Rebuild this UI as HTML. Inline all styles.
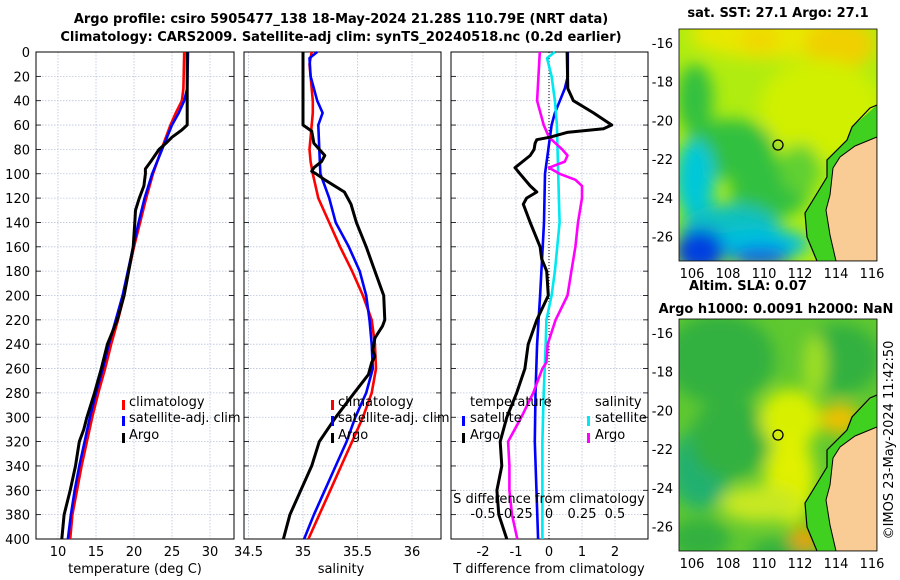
<!DOCTYPE html>
<html><head><meta charset="utf-8"><style>
body{margin:0;background:#fff;width:900px;height:580px;overflow:hidden}
svg{display:block;font-family:"DejaVu Sans","Liberation Sans",sans-serif}
</style></head><body>
<svg id="c" width="900" height="580" viewBox="0 0 900 580">
<defs>
<filter id="bl" x="-20%" y="-20%" width="140%" height="140%"><feGaussianBlur stdDeviation="8"/></filter>
<clipPath id="m1"><rect x="679" y="29" width="198" height="232"/></clipPath>
<clipPath id="m2"><rect x="679" y="319" width="198" height="232"/></clipPath>
</defs>
<text x="341" y="23" text-anchor="middle" font-size="13" font-weight="bold">Argo profile: csiro 5905477_138 18-May-2024 21.28S 110.79E (NRT data)</text>
<text x="341" y="41" text-anchor="middle" font-size="13" font-weight="bold">Climatology: CARS2009. Satellite-adj clim: synTS_20240518.nc (0.2d earlier)</text>
<g id="plots"></g>
<g id="maps"></g>
<text transform="translate(893,440) rotate(-90)" text-anchor="middle" font-size="13">©IMOS 23-May-2024 11:42:50</text>
</svg>
<script>
// ---------- data ----------
const depthTicks=[0,20,40,60,80,100,120,140,160,180,200,220,240,260,280,300,320,340,360,380,400];
const tTicks=[10,15,20,25,30];
const sTicks=[34.5,35,35.5,36];
const dtTicks=[-2,-1,0,1,2];
const dsTicks=[-0.5,-0.25,0,0.25,0.5];
const dsTickLabels=["-0.5","-0.25","0","0.25","0.5"];

const tClimDepth=[0,30,40,50,60,80,100,120,140,160,180,200,220,240,260,280,300,320,340,360,380,400];
const tClimVal=[26.6,26.5,26.3,25.5,24.8,23.6,22.5,21.6,20.8,20.0,19.3,18.7,17.9,17.0,16.2,15.3,14.5,13.8,13.1,12.5,11.9,11.6];
const tSatVal=[27.1,27.0,26.6,25.9,25.0,23.7,22.4,21.4,20.6,19.9,19.2,18.5,17.6,16.7,15.9,15.0,14.2,13.5,12.8,12.2,11.7,11.3];
const tArgoDepth=[0,30,60,64,70,75,80,90,96,100,110,120,130,140,160,180,200,220,240,260,280,300,310,320,340,360,380,400];
const tArgoVal=[27.0,27.0,27.0,26.3,25.0,24.2,23.3,22.2,21.5,21.5,21.3,20.7,20.2,20.1,19.9,19.3,18.7,17.8,16.5,15.7,14.8,13.8,13.4,12.8,12.3,11.6,10.8,10.5];

const sClimDepth=[0,10,40,50,60,70,80,90,100,120,140,160,180,200,220,240,260,280,300,320,340,360,380,400];
const sClimVal=[35.08,35.06,35.09,35.09,35.08,35.07,35.06,35.07,35.09,35.14,35.24,35.34,35.45,35.55,35.63,35.66,35.67,35.63,35.55,35.45,35.35,35.25,35.15,35.05];
const sSatDepth=[0,5,20,40,50,60,80,100,120,140,160,180,200,220,240,260,280,300,320,340,360,380,400];
const sSatVal=[35.13,35.06,35.07,35.13,35.18,35.14,35.15,35.16,35.24,35.30,35.42,35.52,35.58,35.61,35.63,35.64,35.58,35.48,35.40,35.30,35.20,35.10,35.01];
const sArgoDepth=[0,60,65,75,85,90,95,98,100,105,115,125,140,160,180,200,220,225,235,245,250,255,265,280,300,320,340,360,380,400];
const sArgoVal=[35.0,35.0,35.08,35.10,35.2,35.17,35.1,35.08,35.12,35.2,35.38,35.44,35.49,35.58,35.66,35.74,35.75,35.73,35.66,35.64,35.66,35.63,35.6,35.47,35.3,35.15,35.08,34.98,34.88,34.82];

const dtSatDepth=[0,20,30,40,50,60,80,100,140,200,240,280,320,400];
const dtSatVal=[0.57,0.57,0.48,0.33,0.18,0.08,-0.02,-0.12,-0.15,-0.27,-0.36,-0.41,-0.43,-0.33];
const dtArgoDepth=[0,30,40,50,60,63,66,70,72,75,80,85,95,100,110,115,120,125,140,160,170,180,200,220,240,260,280,300,320,340,360,380,400];
const dtArgoVal=[0.55,0.57,0.74,1.35,1.9,1.65,0.55,0.03,-0.37,-0.42,-0.45,-0.57,-1.03,-0.88,-0.57,-0.37,-0.68,-0.78,-0.57,-0.27,-0.22,-0.07,-0.02,-0.37,-0.63,-0.73,-0.98,-1.28,-1.48,-1.43,-1.58,-1.52,-1.28];
const dsSatDepth=[0,5,20,40,60,100,140,180,200,220,240,280,320,400];
const dsSatVal=[0.045,-0.015,0.02,0.045,0.06,0.07,0.08,0.045,0.02,-0.02,-0.025,-0.04,-0.05,-0.05];
const dsArgoDepth=[0,40,60,70,80,85,90,95,100,105,110,120,140,160,180,200,220,240,255,260,280,300,320,340,360,380,400];
const dsArgoVal=[-0.07,-0.09,-0.04,0.0,0.1,0.14,0.12,0.0,0.08,0.2,0.25,0.25,0.22,0.2,0.17,0.14,0.05,-0.01,-0.02,-0.05,-0.12,-0.21,-0.31,-0.3,-0.3,-0.28,-0.24];

// ---------- helpers ----------
const NS="http://www.w3.org/2000/svg";
const plots=document.getElementById('plots');
function mk(tag,attrs,parent){const e=document.createElementNS(NS,tag);for(const k in attrs)e.setAttribute(k,attrs[k]);(parent||plots).appendChild(e);return e;}
const Y=d=>52+d*(487/400);
const xT=v=>58+(v-10)*7.6;
const xS=v=>303+(v-35)*109;
const xDT=v=>549+v*33;
const xDS=v=>549+v*132;

function panel(x0,x1,ticks,xf,labels,name){
  for(const d of depthTicks){
    const l=mk('line',{x1:x0,x2:x1,y1:Y(d),y2:Y(d),stroke:'#b8c4dc','stroke-width':0.8,'stroke-dasharray':'1.5 1.5'});
    
    
    const t1=mk('line',{x1:x0,x2:x0+5,y1:Y(d),y2:Y(d),stroke:'#000','stroke-width':0.8});
    
    
    const t2=mk('line',{x1:x1-5,x2:x1,y1:Y(d),y2:Y(d),stroke:'#000','stroke-width':0.8});
    
    
  }
  ticks.forEach((v,i)=>{
    const l=mk('line',{x1:xf(v),x2:xf(v),y1:52,y2:539,stroke:'#b8c4dc','stroke-width':0.8,'stroke-dasharray':'1.5 1.5'});
    
    
    const t=mk('text',{x:xf(v),y:556,'text-anchor':'middle','font-size':13});
    t.textContent=labels?labels[i]:String(v);
    
    
  });
  const r=mk('rect',{x:x0,y:52,width:x1-x0,height:487,fill:'none',stroke:'#000','stroke-width':1});
  
  
}
function line(ds,vs,xf,color,name,w){
  const pts=ds.map((d,i)=>xf(vs[i]).toFixed(1)+','+Y(d).toFixed(1)).join(' ');
  const p=mk('polyline',{points:pts,fill:'none',stroke:color,'stroke-width':w||2.6,'stroke-linejoin':'round'});
  
  
}
function txt(x,y,s,name,anchor,size){
  const t=mk('text',{x:x,y:y,'font-size':size||13,'text-anchor':anchor||'start'});
  t.textContent=s;
  
  
}
function bar(x,y,color){
  const b=mk('rect',{x:x,y:y-10,width:3,height:10,fill:color});
  
  
}

for(const d of depthTicks){txt(30,Y(d)+5,String(d),'y-tick-label','end');}

// panel 1
panel(36,234,tTicks,xT,null,'temperature-panel');
line(tClimDepth,tClimVal,xT,'#ff0000','temp-climatology-line');
line(tClimDepth,tSatVal,xT,'#0000ff','temp-satellite-line');
line(tArgoDepth,tArgoVal,xT,'#000000','temp-argo-line',3);
txt(135,573,'temperature (deg C)','x-axis-title-temperature','middle');
bar(122,410,'#f00');txt(129,406,'climatology','legend-climatology');
bar(122,426,'#00f');txt(129,422,'satellite-adj. clim','legend-satellite');
bar(122,443,'#000');txt(129,439,'Argo','legend-argo');

// panel 2
panel(244,441,sTicks,xS,null,'salinity-panel');
line(sClimDepth,sClimVal,xS,'#ff0000','sal-climatology-line');
line(sSatDepth,sSatVal,xS,'#0000ff','sal-satellite-line');
line(sArgoDepth,sArgoVal,xS,'#000000','sal-argo-line',3);
txt(341,573,'salinity','x-axis-title-salinity','middle');
bar(331,410,'#f00');txt(338,406,'climatology','legend-climatology');
bar(331,426,'#00f');txt(338,422,'satellite-adj. clim','legend-satellite');
bar(331,443,'#000');txt(338,439,'Argo','legend-argo');

// panel 3
panel(451,648,dtTicks,xDT,null,'difference-panel');
const z=mk('line',{x1:549,x2:549,y1:52,y2:539,stroke:'#000','stroke-width':1,'stroke-dasharray':'1 2'});


line(dtSatDepth,dtSatVal,xDT,'#0000ff','dt-satellite-line');
line(dsSatDepth,dsSatVal,xDS,'#00e8f0','ds-satellite-line');
line(dsArgoDepth,dsArgoVal,xDS,'#ff00ff','ds-argo-line');
line(dtArgoDepth,dtArgoVal,xDT,'#000000','dt-argo-line',3);
dsTicks.forEach((v,i)=>txt(xDS(v),518,dsTickLabels[i],'s-diff-tick-label','middle'));
txt(549,503,'S difference from climatology','s-diff-axis-title','middle');
txt(549,573,'T difference from climatology','t-diff-axis-title','middle');
txt(470,406,'temperature','legend-temperature-header');
bar(462,426,'#00f');txt(470,422,'satellite','legend-t-satellite');
bar(462,443,'#000');txt(470,439,'Argo','legend-t-argo');
txt(595,406,'salinity','legend-salinity-header');
bar(587,426,'#00e8f0');txt(595,422,'satellite','legend-s-satellite');
bar(587,443,'#f0f');txt(595,439,'Argo','legend-s-argo');

// ---------- maps ----------
const maps=document.getElementById('maps');
function mm(tag,attrs,parent){const e=document.createElementNS(NS,tag);for(const k in attrs)e.setAttribute(k,attrs[k]);(parent||maps).appendChild(e);return e;}
const lonTicks=[106,108,110,112,114,116];
const latTicks=[-16,-18,-20,-22,-24,-26];
function map(y0,clip,blobs,base,name){
  const h=232;
  const g=mm('g',{'clip-path':'url(#'+clip+')'});
  
  
  mm('rect',{x:679,y:y0,width:198,height:h,fill:base},g);
  const bg=mm('g',{filter:'url(#bl)'},g);
  blobs.forEach(b=>mm('ellipse',{cx:b[0],cy:y0+b[1],rx:b[2],ry:b[3],fill:b[4]},bg));
  const o=y0-29;
  mm('polygon',{points:[[877,105],[852,127],[847,140],[827,160],[827,177],[813,200],[805,213],[807,237],[817,261],[877,261]].map(p=>p[0]+','+(p[1]+o)).join(' '),fill:'#40d020'},g);
  mm('polygon',{points:[[877,137],[855,146],[840,157],[833,168],[830,195],[826,210],[830,235],[836,261],[877,261]].map(p=>p[0]+','+(p[1]+o)).join(' '),fill:'#f9cc96',stroke:'#000','stroke-width':1},g);
  mm('polyline',{points:[[877,105],[870,108],[852,127],[847,140],[827,160],[827,177],[813,200],[805,213],[807,237],[817,261]].map(p=>p[0]+','+(p[1]+o)).join(' '),fill:'none',stroke:'#000','stroke-width':1.2},g);
  const c=mm('circle',{cx:778,cy:y0+116,r:5,fill:'none',stroke:'#000','stroke-width':1.3});
  
  
  const f=mm('rect',{x:679,y:y0,width:198,height:h,fill:'none',stroke:'#000','stroke-width':0.8});
  
  
  latTicks.forEach((v,i)=>{
    const yy=y0+14+i*38.7;
    const t=mm('text',{x:673,y:yy+5,'font-size':13,'text-anchor':'end'});t.textContent=String(v);
    
    
  });
  lonTicks.forEach((v,i)=>{
    const t=mm('text',{x:692+i*36,y:y0+h+17,'font-size':13,'text-anchor':'middle'});t.textContent=String(v);
    
    
  });
}
map(29,'m1',[
 [770,5,80,25,'#e8e800'],[840,15,35,25,'#f0d000'],[760,10,20,15,'#f0d800'],[820,80,60,50,'#d0f000'],
 [695,70,18,35,'#30c040'],[730,120,45,30,'#30c040'],[770,160,40,30,'#30c040'],[800,140,20,25,'#60d030'],
 [695,150,20,40,'#00c8d8'],[730,200,50,25,'#10c0c0'],[760,215,50,15,'#00c0e0'],[700,222,25,22,'#0040e0'],
 [760,228,30,10,'#1060e0'],[848,210,8,16,'#1060e0']
],'#b0ec10','sst-map');
map(319,'m2',[
 [720,40,55,45,'#30b040'],[840,40,40,35,'#30b040'],[815,45,12,30,'#a0e020'],
 [700,150,30,40,'#20b070'],[730,120,40,40,'#30b040'],[700,220,30,20,'#30b040'],[780,235,30,15,'#30b040'],
 [790,100,30,30,'#d8f000'],[790,160,25,45,'#e0f000'],[840,100,20,15,'#f0c000'],[805,220,15,12,'#f0a000'],
 [760,185,40,18,'#c8e820']
],'#60c830','sla-map');
[['sat. SST: 27.1 Argo: 27.1',778,17,'sst-map-title'],['Altim. SLA: 0.07',748,290,'sla-map-title'],['Argo h1000: 0.0091 h2000: NaN',776,313,'argo-height-title']].forEach(a=>{
  const t=mm('text',{x:a[1],y:a[2],'font-size':13,'font-weight':'bold','text-anchor':'middle'});t.textContent=a[0];
  
  
});
</script>
</body></html>
